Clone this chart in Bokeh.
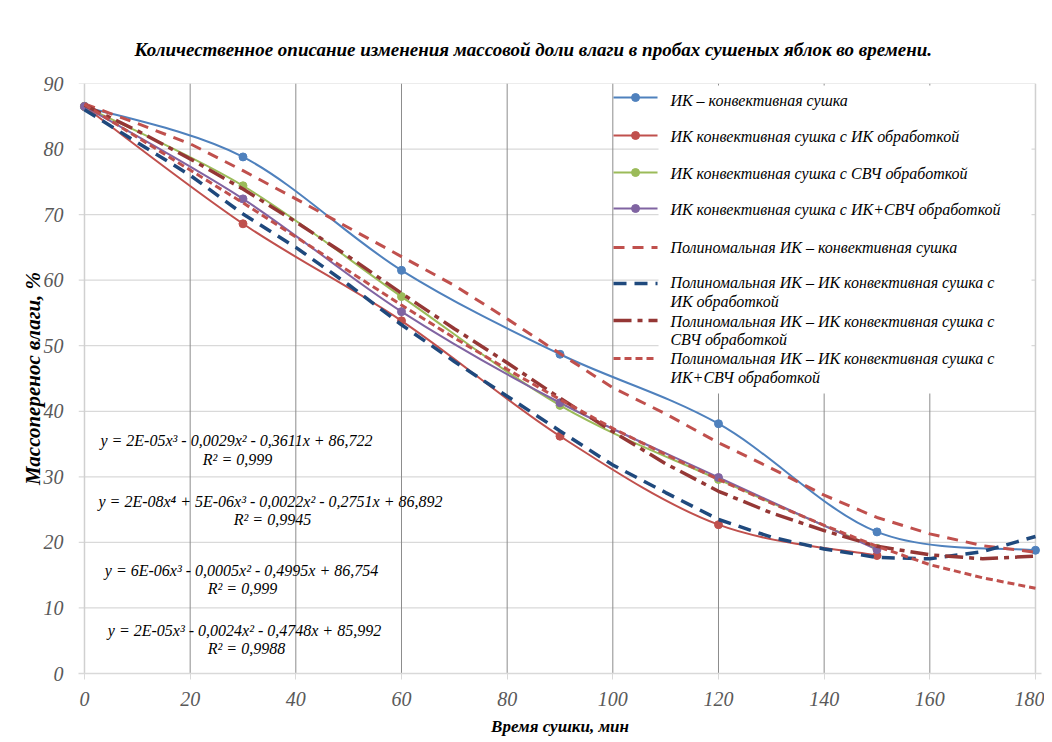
import numpy as np
from bokeh.plotting import figure
from bokeh.models import Range1d, FixedTicker
from bokeh.embed import file_html
from bokeh.resources import INLINE
from bokeh.core.properties import value

# ---------------- data ----------------
TIME = [0, 30, 60, 90, 120, 150, 180]
TIME_SHORT = [0, 30, 60, 90, 120, 150]
IK_CONV = [86.5, 78.8, 61.5, 48.7, 38.1, 21.6, 18.8]          # ИК – конвективная сушка
IK_IK = [86.5, 68.6, 53.8, 36.2, 22.7, 18.0]                   # с ИК обработкой
IK_SVCH = [86.5, 74.4, 57.5, 40.9, 29.6, 19.1]                 # с СВЧ обработкой
IK_IK_SVCH = [86.5, 72.4, 55.2, 41.3, 29.9, 18.9]              # с ИК+СВЧ обработкой

# polynomial trend lines
TREND_T = [0, 10, 20, 30, 40, 50, 60, 70, 80, 90, 100, 110, 120, 130, 140, 150, 160, 170, 180]
TREND_IK_CONV = [86.9, 83.9, 80.8, 76.7, 72.4, 68.0, 63.6, 59.2, 54.1, 48.8, 43.6, 39.6, 35.2,
                 31.3, 27.2, 23.8, 21.3, 19.5, 18.5]
TREND_IK_IK = [86.0, 81.0, 76.0, 70.1, 65.0, 59.3, 53.2, 47.6, 42.3, 37.0, 31.8, 27.6, 23.5,
               20.8, 19.0, 17.7, 17.5, 18.6, 20.9]
TREND_IK_SVCH = [86.7, 82.8, 78.5, 73.9, 68.9, 63.6, 58.0, 52.6, 47.4, 42.0, 36.9, 32.0, 27.8,
                 24.5, 21.8, 19.4, 18.1, 17.5, 17.9]
TREND_IK_IK_SVCH = [86.8, 81.8, 76.8, 71.8, 66.6, 61.4, 56.2, 51.2, 46.4, 41.8, 37.4, 33.4, 29.6,
                    26.0, 22.6, 19.4, 16.6, 14.6, 13.0]

X_TICKS = [0, 20, 40, 60, 80, 100, 120, 140, 160, 180]
Y_TICKS = [0, 10, 20, 30, 40, 50, 60, 70, 80, 90]

TITLE = "Количественное описание изменения массовой доли влаги в пробах сушеных яблок во времени."
X_TITLE = "Время сушки, мин"
Y_TITLE = "Массоперенос влаги, %"

SERIES_NAMES = ["ИК – конвективная сушка",
                "ИК конвективная сушка с ИК обработкой",
                " ИК конвективная сушка с СВЧ обработкой",
                "ИК конвективная сушка с ИК+СВЧ обработкой"]
TREND_NAMES = [["Полиномальная ИК – конвективная сушка"],
               ["Полиномальная ИК – ИК конвективная сушка с", "ИК обработкой"],
               ["Полиномальная ИК – ИК конвективная сушка с", "СВЧ обработкой"],
               ["Полиномальная ИК – ИК конвективная сушка с", "ИК+СВЧ обработкой"]]
EQUATIONS = [("y = 2E-05x³ - 0,0029x² - 0,3611x + 86,722", "R² = 0,999"),
             ("y = 2E-08x⁴ + 5E-06x³ - 0,0022x² - 0,2751x + 86,892", "R² = 0,9945"),
             ("y = 6E-06x³ - 0,0005x² - 0,4995x + 86,754", "R² = 0,999"),
             ("y = 2E-05x³ - 0,0024x² - 0,4748x + 85,992", "R² = 0,9988")]

# ---------------- styles ----------------
C_BLUE, C_RED, C_GREEN, C_PURPLE = "#4F81BD", "#C0504D", "#9BBB59", "#8064A2"
C_DBLUE, C_DRED = "#1F497D", "#953735"
FONT = "Liberation Serif"

X0 = -1.1356
p = figure(width=1044, height=742, output_backend="svg", toolbar_location=None,
           x_range=Range1d(X0, 181.14), y_range=Range1d(0, 90),
           min_border_left=78, min_border_right=3, min_border_top=83, min_border_bottom=69,
           background_fill_color="white", border_fill_color="white",
           title=TITLE, x_axis_label=X_TITLE, y_axis_label=Y_TITLE)
p.outline_line_color = None
p.xgrid.visible = False
p.ygrid.visible = False

p.title.align = "left"
p.title.offset = 56
p.title.standoff = 47
p.title.text_font = FONT
p.title.text_font_style = "bold italic"
p.title.text_font_size = "19px"
p.title.text_color = "black"

p.xaxis.ticker = FixedTicker(ticks=X_TICKS)
p.yaxis.ticker = FixedTicker(ticks=Y_TICKS)
for ax in (p.xaxis, p.yaxis):
    ax.major_label_text_font = FONT
    ax.major_label_text_font_style = "italic"
    ax.major_label_text_font_size = "20px"
    ax.major_label_text_color = "#595959"
    ax.minor_tick_line_color = None
    ax.axis_label_text_font = FONT
    ax.axis_label_text_font_style = "bold italic"
    ax.axis_label_text_color = "black"
p.xaxis.axis_label_text_font_size = "17px"
p.yaxis.axis_label_text_font_size = "21px"
p.xaxis.axis_label_standoff = 8
p.yaxis.axis_label_standoff = -4
p.xaxis.axis_line_color = "#d9d9d9"
p.xaxis.axis_line_width = 1.5
p.xaxis.major_tick_line_color = "#d9d9d9"
p.xaxis.major_tick_out = 6
p.xaxis.major_tick_in = 0
p.xaxis.major_label_standoff = 12
p.yaxis.axis_line_color = None
p.yaxis.major_tick_line_color = None
p.yaxis.major_tick_out = 0
p.yaxis.major_tick_in = 0
p.yaxis.major_label_standoff = 15

# grid lines
hy = Y_TICKS[1:]
p.segment(x0=[X0] * len(hy), y0=hy, x1=[180] * len(hy), y1=hy, line_color="#d9d9d9", line_width=1.2)
vx = X_TICKS[1:-1]
p.segment(x0=vx, y0=[0] * len(vx), x1=vx, y1=[90] * len(vx), line_color="#8c8c8c", line_width=1)
p.segment(x0=[0, 180], y0=[0, 0], x1=[0, 180], y1=[90, 90], line_color="#d0d0d0", line_width=1.5)

# legend background (text area)
p.quad(left=108.65, right=179.25, bottom=42.71, top=89.7, fill_color="white", line_color=None)


def smooth(xs, ys):
    n = len(xs)
    out = dict(x0=[], y0=[], x1=[], y1=[], cx0=[], cy0=[], cx1=[], cy1=[])
    for i in range(n - 1):
        a = max(i - 1, 0)
        d = min(i + 2, n - 1)
        out["x0"].append(xs[i]); out["y0"].append(ys[i])
        out["x1"].append(xs[i + 1]); out["y1"].append(ys[i + 1])
        out["cx0"].append(xs[i] + (xs[i + 1] - xs[a]) / 6)
        out["cy0"].append(ys[i] + (ys[i + 1] - ys[a]) / 6)
        out["cx1"].append(xs[i + 1] - (xs[d] - xs[i]) / 6)
        out["cy1"].append(ys[i + 1] - (ys[d] - ys[i]) / 6)
    return out


data_series = [(TIME, IK_CONV, C_BLUE), (TIME_SHORT, IK_IK, C_RED),
               (TIME_SHORT, IK_SVCH, C_GREEN), (TIME_SHORT, IK_IK_SVCH, C_PURPLE)]
for xs, ys, col in data_series:
    p.bezier(line_color=col, line_width=2, **smooth(xs, ys))
for xs, ys, col in data_series:
    p.scatter(xs, ys, size=8, marker="circle", fill_color=col, line_color=col)

trend_styles = [(TREND_IK_CONV, C_RED, 3, "11 8"),
                (TREND_IK_IK, C_DBLUE, 3.5, "13 8"),
                (TREND_IK_SVCH, C_DRED, 3.5, "18 6 5 6"),
                (TREND_IK_IK_SVCH, C_RED, 3, "7 4")]
for ys, col, w, dash in trend_styles:
    p.line(TREND_T, ys, line_color=col, line_width=w, line_dash=dash)

# ---------------- legend ----------------
LX0, LX1, LXM, LTX = 100.13, 108.46, 104.3, 110.9
row_y = [87.86, 82.07, 76.42, 70.93]
for (xs, ys, col), ry in zip(data_series, row_y):
    p.line([LX0, LX1], [ry, ry], line_color=col, line_width=2)
    p.scatter([LXM], [ry], size=8, fill_color=col, line_color=col)
p.text(x=[LTX] * 4, y=[87.45, 81.9, 76.3, 70.8], text=SERIES_NAMES,
       text_font=value(FONT), text_font_style="italic", text_font_size="16px",
       text_baseline="middle", text_align="left", text_color="black")

trow_y = [64.98, 59.49, 53.85, 48.05]
for (ys, col, w, dash), ry in zip(trend_styles, trow_y):
    p.line([LX0, LX1], [ry, ry], line_color=col, line_width=w, line_dash=dash)
tx, ty, tt = [], [], []
text_rows = [[65.0], [59.6, 56.7], [53.7, 50.9], [48.05, 45.2]]
for lines, ys_ in zip(TREND_NAMES, text_rows):
    for ln, yy in zip(lines, ys_):
        tx.append(LTX); ty.append(yy); tt.append(ln)
p.text(x=tx, y=ty, text=tt, text_font=value(FONT), text_font_style="italic",
       text_font_size="16px", text_baseline="middle", text_align="left", text_color="black")

# ---------------- equations ----------------
eq_pos = [((28.77, 35.54), (28.96, 32.64)), ((35.2, 26.24), (35.58, 23.49)),
          ((29.72, 15.71), (29.9, 12.97)), ((30.28, 6.56), (30.66, 3.81))]
ex, ey, et = [], [], []
for (eq, r2), (pe, pr) in zip(EQUATIONS, eq_pos):
    ex += [pe[0], pr[0]]; ey += [pe[1], pr[1]]; et += [eq, r2]
p.text(x=ex, y=ey, text=et, text_font=value(FONT), text_font_style="italic",
       text_font_size="16px", text_baseline="middle", text_align="center", text_color="black")

open("out.html", "w").write(file_html(p, INLINE))
